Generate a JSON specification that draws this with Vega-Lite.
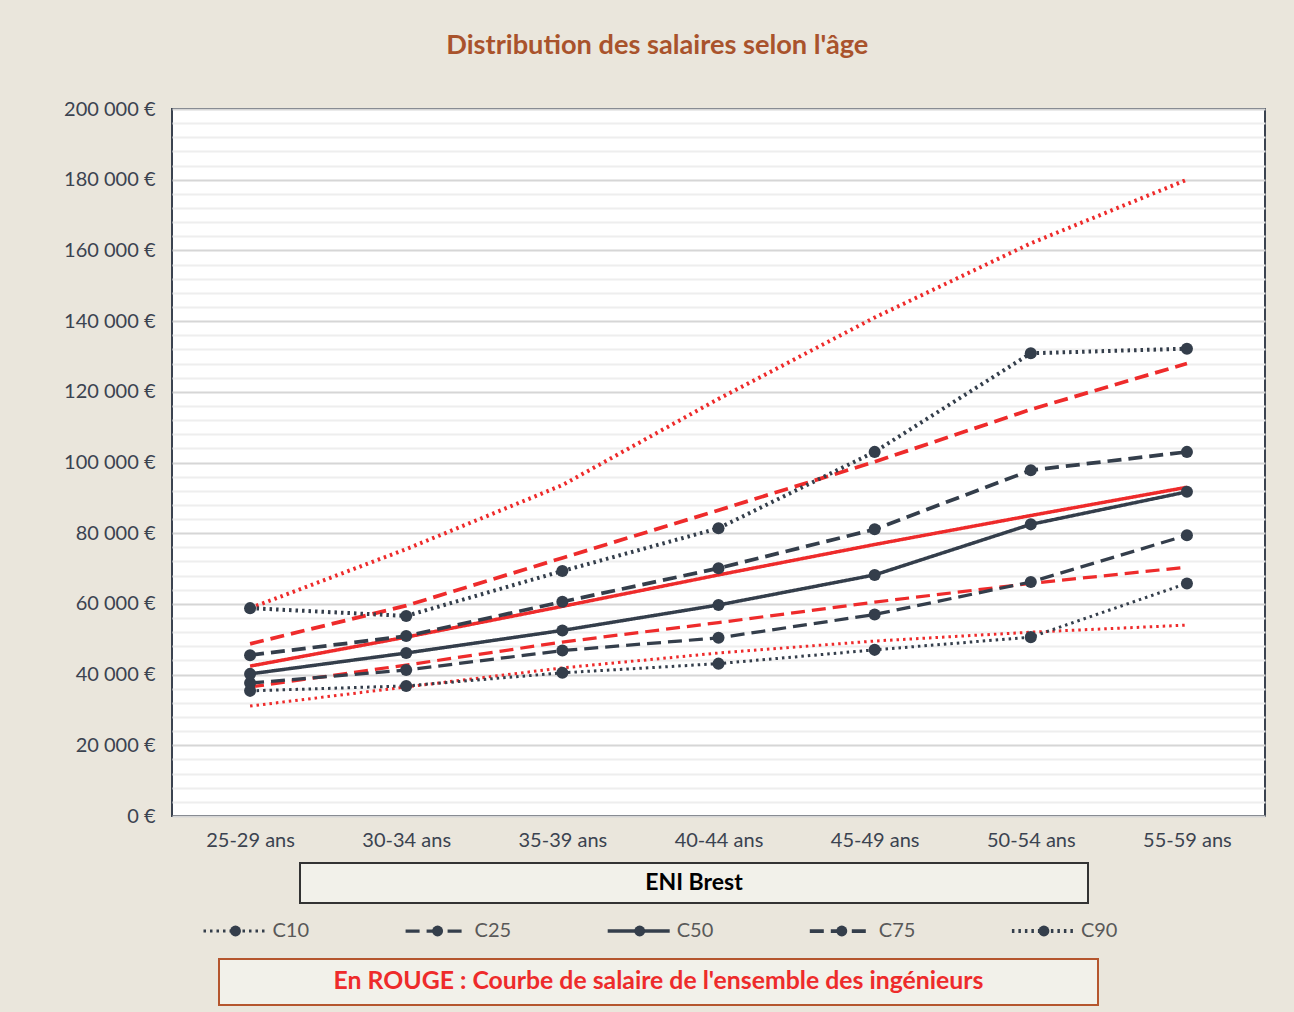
{
  "$schema": "https://vega.github.io/schema/vega-lite/v6.json",
  "background": "#EAE6DC",
  "padding": {"left": 62, "right": 28, "top": 31, "bottom": 8},
  "title": {"text": "Distribution des salaires selon l'âge", "font": "Lato", "fontSize": 27.2, "fontWeight": "bold", "color": "#A9532C", "anchor": "middle", "offset": 38, "dx": -7},
  "datasets": {
    "salaires": [
      {"age": "25-29 ans", "serie": "C10", "groupe": "Ensemble", "salaire": 31100},
      {"age": "30-34 ans", "serie": "C10", "groupe": "Ensemble", "salaire": 36500},
      {"age": "35-39 ans", "serie": "C10", "groupe": "Ensemble", "salaire": 41900},
      {"age": "40-44 ans", "serie": "C10", "groupe": "Ensemble", "salaire": 46100},
      {"age": "45-49 ans", "serie": "C10", "groupe": "Ensemble", "salaire": 49500},
      {"age": "50-54 ans", "serie": "C10", "groupe": "Ensemble", "salaire": 52000},
      {"age": "55-59 ans", "serie": "C10", "groupe": "Ensemble", "salaire": 54000},
      {"age": "25-29 ans", "serie": "C25", "groupe": "Ensemble", "salaire": 36500},
      {"age": "30-34 ans", "serie": "C25", "groupe": "Ensemble", "salaire": 42700},
      {"age": "35-39 ans", "serie": "C25", "groupe": "Ensemble", "salaire": 49200},
      {"age": "40-44 ans", "serie": "C25", "groupe": "Ensemble", "salaire": 54700},
      {"age": "45-49 ans", "serie": "C25", "groupe": "Ensemble", "salaire": 60500},
      {"age": "50-54 ans", "serie": "C25", "groupe": "Ensemble", "salaire": 65800},
      {"age": "55-59 ans", "serie": "C25", "groupe": "Ensemble", "salaire": 70400},
      {"age": "25-29 ans", "serie": "C50", "groupe": "Ensemble", "salaire": 42400},
      {"age": "30-34 ans", "serie": "C50", "groupe": "Ensemble", "salaire": 50600},
      {"age": "35-39 ans", "serie": "C50", "groupe": "Ensemble", "salaire": 59300},
      {"age": "40-44 ans", "serie": "C50", "groupe": "Ensemble", "salaire": 68200},
      {"age": "45-49 ans", "serie": "C50", "groupe": "Ensemble", "salaire": 76800},
      {"age": "50-54 ans", "serie": "C50", "groupe": "Ensemble", "salaire": 85000},
      {"age": "55-59 ans", "serie": "C50", "groupe": "Ensemble", "salaire": 93000},
      {"age": "25-29 ans", "serie": "C75", "groupe": "Ensemble", "salaire": 48700},
      {"age": "30-34 ans", "serie": "C75", "groupe": "Ensemble", "salaire": 59500},
      {"age": "35-39 ans", "serie": "C75", "groupe": "Ensemble", "salaire": 73000},
      {"age": "40-44 ans", "serie": "C75", "groupe": "Ensemble", "salaire": 86500},
      {"age": "45-49 ans", "serie": "C75", "groupe": "Ensemble", "salaire": 100200},
      {"age": "50-54 ans", "serie": "C75", "groupe": "Ensemble", "salaire": 115000},
      {"age": "55-59 ans", "serie": "C75", "groupe": "Ensemble", "salaire": 128000},
      {"age": "25-29 ans", "serie": "C90", "groupe": "Ensemble", "salaire": 58800},
      {"age": "30-34 ans", "serie": "C90", "groupe": "Ensemble", "salaire": 75500},
      {"age": "35-39 ans", "serie": "C90", "groupe": "Ensemble", "salaire": 93600},
      {"age": "40-44 ans", "serie": "C90", "groupe": "Ensemble", "salaire": 118000},
      {"age": "45-49 ans", "serie": "C90", "groupe": "Ensemble", "salaire": 141000},
      {"age": "50-54 ans", "serie": "C90", "groupe": "Ensemble", "salaire": 162000},
      {"age": "55-59 ans", "serie": "C90", "groupe": "Ensemble", "salaire": 180000},
      {"age": "25-29 ans", "serie": "C10", "groupe": "ENI", "salaire": 35400},
      {"age": "30-34 ans", "serie": "C10", "groupe": "ENI", "salaire": 36800},
      {"age": "35-39 ans", "serie": "C10", "groupe": "ENI", "salaire": 40500},
      {"age": "40-44 ans", "serie": "C10", "groupe": "ENI", "salaire": 43100},
      {"age": "45-49 ans", "serie": "C10", "groupe": "ENI", "salaire": 47000},
      {"age": "50-54 ans", "serie": "C10", "groupe": "ENI", "salaire": 50600},
      {"age": "55-59 ans", "serie": "C10", "groupe": "ENI", "salaire": 65800},
      {"age": "25-29 ans", "serie": "C25", "groupe": "ENI", "salaire": 37600},
      {"age": "30-34 ans", "serie": "C25", "groupe": "ENI", "salaire": 41300},
      {"age": "35-39 ans", "serie": "C25", "groupe": "ENI", "salaire": 46800},
      {"age": "40-44 ans", "serie": "C25", "groupe": "ENI", "salaire": 50400},
      {"age": "45-49 ans", "serie": "C25", "groupe": "ENI", "salaire": 57000},
      {"age": "50-54 ans", "serie": "C25", "groupe": "ENI", "salaire": 66200},
      {"age": "55-59 ans", "serie": "C25", "groupe": "ENI", "salaire": 79400},
      {"age": "25-29 ans", "serie": "C50", "groupe": "ENI", "salaire": 40200},
      {"age": "30-34 ans", "serie": "C50", "groupe": "ENI", "salaire": 46100},
      {"age": "35-39 ans", "serie": "C50", "groupe": "ENI", "salaire": 52500},
      {"age": "40-44 ans", "serie": "C50", "groupe": "ENI", "salaire": 59700},
      {"age": "45-49 ans", "serie": "C50", "groupe": "ENI", "salaire": 68200},
      {"age": "50-54 ans", "serie": "C50", "groupe": "ENI", "salaire": 82500},
      {"age": "55-59 ans", "serie": "C50", "groupe": "ENI", "salaire": 91700},
      {"age": "25-29 ans", "serie": "C75", "groupe": "ENI", "salaire": 45500},
      {"age": "30-34 ans", "serie": "C75", "groupe": "ENI", "salaire": 50900},
      {"age": "35-39 ans", "serie": "C75", "groupe": "ENI", "salaire": 60600},
      {"age": "40-44 ans", "serie": "C75", "groupe": "ENI", "salaire": 70100},
      {"age": "45-49 ans", "serie": "C75", "groupe": "ENI", "salaire": 81100},
      {"age": "50-54 ans", "serie": "C75", "groupe": "ENI", "salaire": 97800},
      {"age": "55-59 ans", "serie": "C75", "groupe": "ENI", "salaire": 103000},
      {"age": "25-29 ans", "serie": "C90", "groupe": "ENI", "salaire": 58800},
      {"age": "30-34 ans", "serie": "C90", "groupe": "ENI", "salaire": 56600},
      {"age": "35-39 ans", "serie": "C90", "groupe": "ENI", "salaire": 69300},
      {"age": "40-44 ans", "serie": "C90", "groupe": "ENI", "salaire": 81400},
      {"age": "45-49 ans", "serie": "C90", "groupe": "ENI", "salaire": 103000},
      {"age": "50-54 ans", "serie": "C90", "groupe": "ENI", "salaire": 130900},
      {"age": "55-59 ans", "serie": "C90", "groupe": "ENI", "salaire": 132200}
    ]
  },
  "spacing": 11,
  "vconcat": [
    {
      "width": 1093,
      "height": 707,
      "view": {"fill": "#FFFFFF", "stroke": "#3B4350", "strokeWidth": 2},
      "data": {"name": "salaires"},
      "encoding": {
        "x": {
          "field": "age", "type": "ordinal",
          "scale": {"type": "point", "padding": 0.5},
          "axis": {"title": null, "labelAngle": 0, "labelFontSize": 20, "labelColor": "#3B4350", "labelPadding": 14, "ticks": false, "domain": false, "grid": false}
        },
        "y": {
          "field": "salaire", "type": "quantitative",
          "scale": {"domain": [0, 200000], "nice": false},
          "axis": {
            "title": null,
            "values": [0,4000,8000,12000,16000,20000,24000,28000,32000,36000,40000,44000,48000,52000,56000,60000,64000,68000,72000,76000,80000,84000,88000,92000,96000,100000,104000,108000,112000,116000,120000,124000,128000,132000,136000,140000,144000,148000,152000,156000,160000,164000,168000,172000,176000,180000,184000,188000,192000,196000,200000],
            "labelExpr": "datum.value % 20000 === 0 ? replace(format(datum.value, ','), ',', ' ') + ' €' : ''",
            "labelOverlap": false,
            "labelFontSize": 20,
            "labelColor": "#3B4350",
            "labelPadding": 17,
            "ticks": false,
            "domain": false,
            "grid": true,
            "gridColor": {"condition": {"test": "datum.value % 20000 === 0", "value": "#D6D6D6"}, "value": "#EEEEEE"},
            "gridWidth": 2
          }
        }
      },
      "layer": [
        {
          "transform": [{"filter": "datum.groupe === 'Ensemble'"}],
          "mark": {"type": "line", "color": "#EE2B2B"},
          "encoding": {
            "strokeDash": {"field": "serie", "type": "nominal", "scale": {"domain": ["C10","C25","C50","C75","C90"], "range": [[2.5,4],[14,7],[1,0],[14,7],[2.5,4]]}, "legend": null},
            "strokeWidth": {"field": "serie", "type": "ordinal", "scale": {"domain": ["C10","C25","C50","C75","C90"], "range": [3,4,4.5,4,3]}, "legend": null}
          }
        },
        {
          "transform": [{"filter": "datum.groupe === 'ENI'"}],
          "mark": {"type": "line", "color": "#343E4B"},
          "encoding": {
            "strokeDash": {"field": "serie", "type": "nominal", "scale": {"domain": ["C10","C25","C50","C75","C90"], "range": [[2.5,4],[14,7],[1,0],[14,7],[2.5,4]]}, "legend": null},
            "strokeWidth": {"field": "serie", "type": "ordinal", "scale": {"domain": ["C10","C25","C50","C75","C90"], "range": [3,4,4.5,4,3]}, "legend": null}
          }
        },
        {
          "transform": [{"filter": "datum.groupe === 'ENI'"}],
          "mark": {"type": "circle", "color": "#343E4B", "opacity": 1},
          "encoding": {
            "size": {"field": "serie", "type": "ordinal", "scale": {"domain": ["C10","C25","C50","C75","C90"], "range": [145,145,220,145,145]}, "legend": null}
          }
        }
      ]
    },
    {
      "spacing": 0,
      "hconcat": [
        {"width": 127, "height": 40, "data": {"values": [{}]}, "mark": {"type": "text"}, "encoding": {"text": {"value": ""}}},
        {
          "width": 788, "height": 40,
          "view": {"fill": "#F2F1EA", "stroke": "#333333", "strokeWidth": 2},
          "data": {"values": [{"texte": "ENI Brest"}]},
          "mark": {"type": "text", "fontSize": 23, "fontWeight": "bold", "color": "#000000"},
          "encoding": {"text": {"field": "texte"}}
        }
      ]
    },
    {
      "width": 1000,
      "height": 32,
      "data": {"name": "salaires"},
      "transform": [{"filter": "datum.groupe === 'ENI' && datum.age === '25-29 ans'"}],
      "encoding": {
        "x": {"field": "serie", "type": "nominal", "scale": {"type": "point", "domain": ["C10","C25","C50","C75","C90"], "padding": 0.474, "align": 0.3314}, "axis": null}
      },
      "layer": [
        {
          "mark": {"type": "rule", "color": "#343E4B", "xOffset": -32, "x2Offset": 30},
          "encoding": {
            "x2": {"field": "serie"},
            "strokeDash": {"field": "serie", "type": "nominal", "scale": {"domain": ["C10","C25","C50","C75","C90"], "range": [[2.5,4],[14,7],[1,0],[14,7],[2.5,4]]}, "legend": null},
            "strokeWidth": {"field": "serie", "type": "ordinal", "scale": {"domain": ["C10","C25","C50","C75","C90"], "range": [3,4,4.5,4,3]}, "legend": null}
          }
        },
        {"mark": {"type": "circle", "color": "#343E4B", "opacity": 1, "size": 120}},
        {"mark": {"type": "text", "align": "left", "dx": 37, "fontSize": 20, "color": "#595959"}, "encoding": {"text": {"field": "serie"}}}
      ]
    },
    {
      "spacing": 0,
      "hconcat": [
        {"width": 46, "height": 46, "data": {"values": [{}]}, "mark": {"type": "text"}, "encoding": {"text": {"value": ""}}},
        {
          "width": 879, "height": 46,
          "view": {"fill": "#F2F1EA", "stroke": "#B5562E", "strokeWidth": 2},
          "data": {"values": [{"texte": "En ROUGE : Courbe de salaire de l'ensemble des ingénieurs"}]},
          "mark": {"type": "text", "fontSize": 24.8, "fontWeight": "bold", "color": "#EE2B2B"},
          "encoding": {"text": {"field": "texte"}}
        }
      ]
    }
  ],
  "config": {"font": "Lato", "view": {"stroke": null}}
}
